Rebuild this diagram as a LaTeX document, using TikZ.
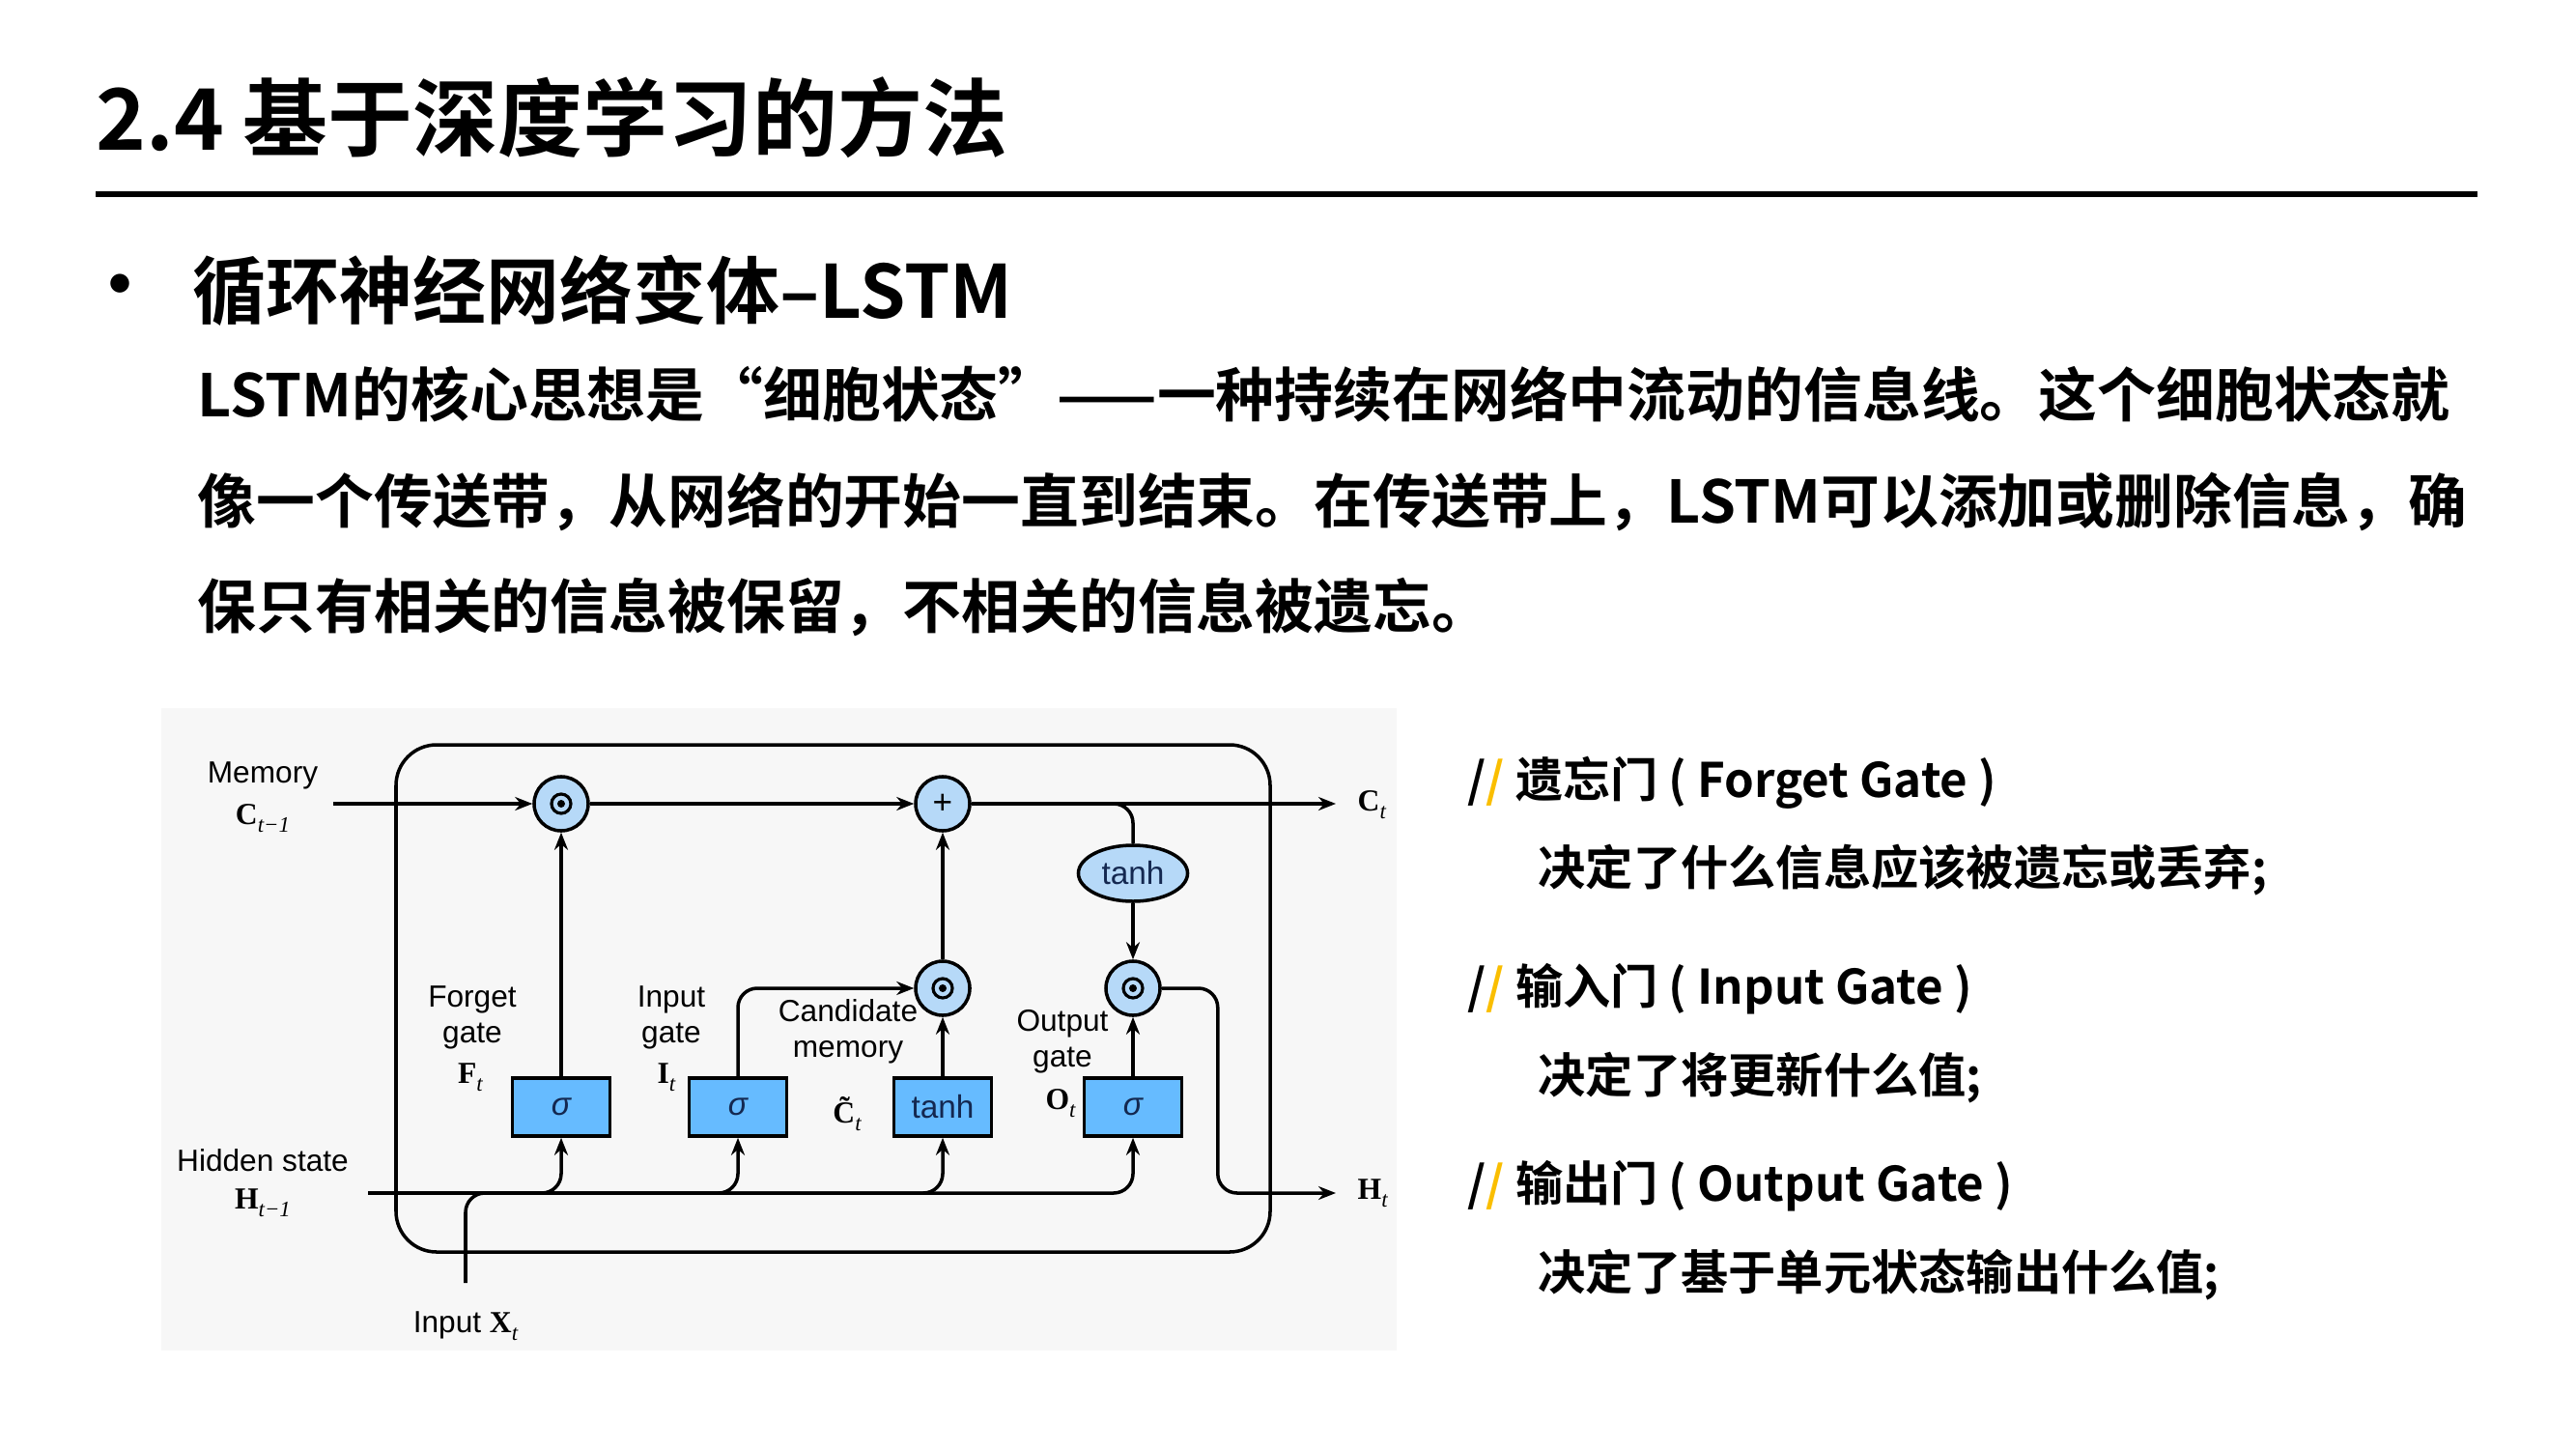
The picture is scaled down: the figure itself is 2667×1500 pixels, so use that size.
\documentclass[tikz,border=0pt]{standalone}
\usepackage{fontspec}
\setmainfont{Noto Sans CJK SC}[BoldFont={Noto Sans CJK SC Bold}]
\newfontfamily\lblfont{Liberation Sans}
\newfontfamily\varfont{Liberation Serif}
\usetikzlibrary{arrows.meta,positioning,shapes.geometric}
\definecolor{diagbg}{RGB}{247,247,247}
\definecolor{gatefill}{RGB}{102,187,255}
\definecolor{opfill}{RGB}{182,217,248}
\definecolor{gatetext}{RGB}{20,40,80}
\definecolor{slashyellow}{RGB}{250,190,0}
\newcommand{\vsym}[2]{{\varfont\bfseries #1}\raisebox{-0.5ex}{\varfont\fontsize{6.5}{6.5}\selectfont\itshape #2}}

\begin{document}
\begin{tikzpicture}[x=0.01cm, y=-0.01cm,
    pagetitle/.style={anchor=west, inner sep=0pt, font=\fontsize{25}{25}\selectfont\bfseries},
    subhead/.style={anchor=west, inner sep=0pt, font=\fontsize{21.6}{21.6}\selectfont\bfseries},
    bodyline/.style={anchor=west, inner sep=0pt, font=\fontsize{17.3}{17.3}\selectfont\bfseries},
    note/.style={anchor=west, inner sep=0pt, font=\fontsize{14}{14}\selectfont\bfseries},
    lbl/.style={inner sep=0pt, align=center, font=\lblfont\fontsize{9}{10.5}\selectfont},
    gatebox/.style={draw, line width=1pt, fill=gatefill, minimum width=1.01cm, minimum height=0.6cm,
        inner sep=0pt, text=gatetext, font=\lblfont\fontsize{9.5}{9.5}\selectfont},
    opcirc/.style={circle, draw, line width=1pt, fill=opfill, minimum size=0.56cm, inner sep=0pt},
    odot/.style={opcirc, path picture={
        \draw[black, line width=0.9pt] (path picture bounding box.center) circle (0.1cm);
        \fill[black] (path picture bounding box.center) circle (0.04cm);}},
    wire/.style={line width=1pt},
    flow/.style={line width=1pt, -{Stealth[length=0.18cm, width=0.14cm]}},
]
\useasboundingbox (0,0) rectangle (2667,1500);

% heading and text
\node[pagetitle] (ttl) at (99,122) {2.4 基于深度学习的方法};
\draw[line width=1.8pt] (99,201) -- (2565,201);
\node[subhead] (bul) at (86,303) {•};
\node[subhead] (sub) at (199,301) {循环神经网络变体–LSTM};
\node[bodyline] (ln1) at (204,408) {LSTM的核心思想是“细胞状态”——一种持续在网络中流动的信息线。这个细胞状态就};
\node[bodyline] (ln2) at (204,519) {像一个传送带，从网络的开始一直到结束。在传送带上，LSTM可以添加或删除信息，确};
\node[bodyline] (ln3) at (204,629) {保只有相关的信息被保留，不相关的信息被遗忘。};

% diagram
\fill[diagbg] (167,733) rectangle (1446,1398);
\draw[wire, rounded corners=0.42cm] (410,771) rectangle (1315,1296);

\node[gatebox] (fx) at (581,1146) {\itshape σ};
\node[gatebox] (ix) at (764,1146) {\itshape σ};
\node[gatebox] (cx) at (976,1146) {tanh};
\node[gatebox] (ox) at (1173,1146) {\itshape σ};

\node[odot] (fm) at (581,832) {};
\node[opcirc, font=\lblfont\fontsize{10}{10}\selectfont] (ad) at (976,832) {+};
\node[odot] (im) at (976,1023) {};
\node[odot] (om) at (1173,1023) {};
\node[ellipse, draw, line width=1pt, fill=opfill, minimum width=1.13cm, minimum height=0.58cm,
    inner sep=0pt, text=gatetext, font=\lblfont\fontsize{9.5}{9.5}\selectfont] (th) at (1173,904) {tanh};

\coordinate (cin) at (345,832);
\coordinate (cout) at (1383,832);
\coordinate (hin) at (381,1235);
\coordinate (hout) at (1383,1235);
\coordinate (xin) at (482,1328);
\coordinate (xb) at (560,1235);

\draw[flow] (cin) -- (fm);
\draw[flow] (fm) -- (ad);
\draw[flow] (ad) -- (cout);
\draw[wire, rounded corners=0.2cm] (ad.east) -| (th);
\draw[flow] (th) -- (om);
\draw[flow] (fx) -- (fm);
\draw[flow, rounded corners=0.2cm] (ix) |- (im);
\draw[flow] (cx) -- (im);
\draw[flow] (im) -- (ad);
\draw[flow] (ox) -- (om);
\draw[flow, rounded corners=0.2cm] (om.east) -- ++(58,0) |- (hout);
\foreach \g in {fx,ix,cx,ox}
    \draw[flow, rounded corners=0.2cm] (hin) -| (\g.south);
\draw[wire, rounded corners=0.2cm] (xin) |- (xb);

% labels
\node[lbl] (mem) at (272,803) {Memory};
\node[lbl] (cprev) at (272,847) {\vsym{C}{t−1}};
\node[lbl] (hid) at (272,1201) {Hidden state};
\node[lbl] (hprev) at (272,1245) {\vsym{H}{t−1}};
\node[lbl] (xlbl) at (482,1373) {Input \vsym{X}{t}};
\node[lbl, anchor=west] (cnext) at (1405,833) {\vsym{C}{t}};
\node[lbl, anchor=west] (hnext) at (1405,1235) {\vsym{H}{t}};
\node[lbl] (fgl) at (489,1053) {Forget\\gate};
\node[lbl] (fsym) at (487,1115) {\vsym{F}{t}};
\node[lbl] (igl) at (695,1053) {Input\\gate};
\node[lbl] (isym) at (690,1115) {\vsym{I}{t}};
\node[lbl] (cml) at (878,1068) {Candidate\\memory};
\node[lbl] (csym) at (877,1153) {{\varfont\bfseries\~{C}}\raisebox{-0.5ex}{\varfont\fontsize{6.5}{6.5}\selectfont\itshape t}};
\node[lbl] (ogl) at (1100,1078) {Output\\gate};
\node[lbl] (osym) at (1098,1142) {\vsym{O}{t}};

% gate notes
\node[note] (fgh) at (1519,810) {/\textcolor{slashyellow}{/} 遗忘门 ( Forget Gate )};
\node[note] (fgd) at (1592,901) {决定了什么信息应该被遗忘或丢弃;};
\node[note] (igh) at (1519,1024) {/\textcolor{slashyellow}{/} 输入门 ( Input Gate )};
\node[note] (igd) at (1592,1116) {决定了将更新什么值;};
\node[note] (ogh) at (1519,1228) {/\textcolor{slashyellow}{/} 输出门 ( Output Gate )};
\node[note] (ogd) at (1592,1320) {决定了基于单元状态输出什么值;};
\end{tikzpicture}
\end{document}
